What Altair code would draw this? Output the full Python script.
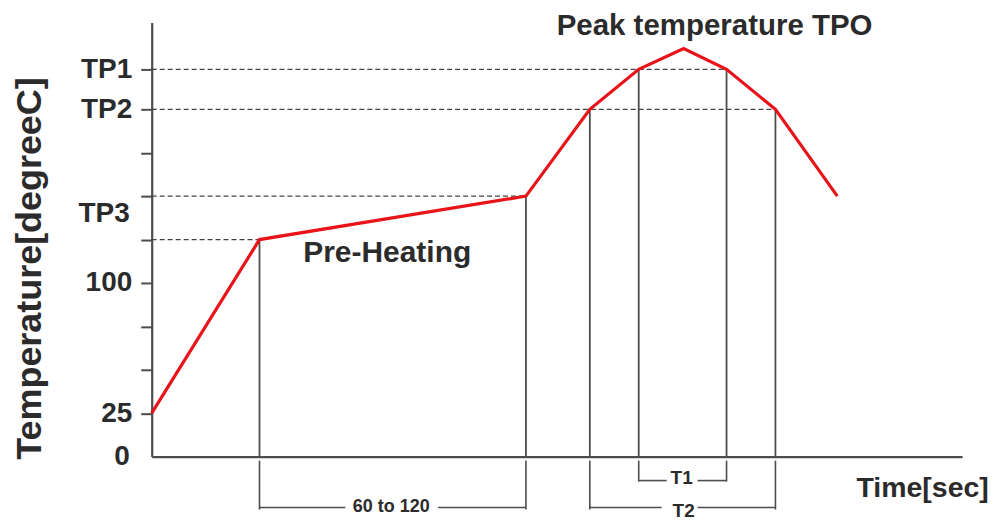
import altair as alt
import pandas as pd

# ---- data (schematic units: time axis 0..812, temperature axis 0..250) ----
time_pts = [0, 108, 375, 439, 488, 533, 576, 625, 687]
temp_pts = [25, 125, 150, 200, 223, 235, 223, 200, 150]

y_tick_values = [25, 50, 75, 100, 125, 150, 175, 200, 223]
y_tick_labels = ["25", "", "", "100", "", "", "", "TP2", "TP1"]

# vertical guide lines from the x-axis up to the profile
guide_time = [108, 375, 439, 488, 576, 625]
guide_temp = [125, 150, 200, 223, 223, 200]

# dashed level lines from the y-axis to the profile
dash_temp = [125, 150, 200, 223]
dash_end = [108, 375, 625, 576]

# dimension lines below the x-axis
dim_v_time = [108, 375, 439, 625, 488, 576]
dim_v_low = [-30.5, -30.5, -30.5, -30.5, -14.4, -14.4]
dim_h_x1 = [108, 287, 439, 547, 488, 547]
dim_h_x2 = [194, 375, 511, 625, 516, 576]
dim_h_y = [-29.3, -29.3, -29.3, -29.3, -13.8, -13.8]

# annotation texts (centred)
ann_text = ["Peak temperature TPO", "Pre-Heating", "60 to 120", "T1", "T2"]
ann_time = [564, 236, 240, 531, 533]
ann_temp = [243, 112, -32, -16, -35]
ann_size = [29.5, 30, 18, 19, 19]

# annotation texts (right-aligned, next to the y-axis)
side_text = ["TP3", "0"]
side_time = [-22, -22]
side_temp = [135, -4.6]

FONT = "Liberation Sans"
TXT = "#2b2b2b"
GRAY = "#4d4d4d"

xs = alt.Scale(domain=[0, 812], nice=False, zero=False)
ys = alt.Scale(domain=[0, 250], nice=False, zero=False)

label_expr = " : ".join(
    f"datum.value == {v} ? '{l}'" for v, l in zip(y_tick_values, y_tick_labels)
) + " : ''"

profile_df = pd.DataFrame({"t": time_pts, "T": temp_pts})
guide_df = pd.DataFrame({"t": guide_time, "T": guide_temp, "z": [0] * len(guide_time)})
dash_df = pd.DataFrame({"T": dash_temp, "t2": dash_end, "t": [0] * len(dash_temp)})
dimv_df = pd.DataFrame({"t": dim_v_time, "lo": dim_v_low, "hi": [-2.3] * len(dim_v_time)})
dimh_df = pd.DataFrame({"x1": dim_h_x1, "x2": dim_h_x2, "y": dim_h_y})
ann_df = pd.DataFrame({"text": ann_text, "t": ann_time, "T": ann_temp, "size": ann_size})
side_df = pd.DataFrame({"text": side_text, "t": side_time, "T": side_temp})

base_x = alt.X("t:Q", scale=xs,
               axis=alt.Axis(labels=False, ticks=False, grid=False, title="Time[sec]",
                             domainColor=GRAY, domainWidth=2.2,
                             titleFont=FONT, titleFontSize=28.5, titleFontWeight="bold",
                             titleColor=TXT, titleX=772, titleY=40,
                             titleAlign="center", titleBaseline="alphabetic"))
base_y = alt.Y("T:Q", scale=ys,
               axis=alt.Axis(values=y_tick_values, labelExpr=label_expr, grid=False,
                             title="Temperature[degreeC]",
                             domainColor=GRAY, domainWidth=2.2,
                             tickColor=GRAY, tickWidth=2, tickSize=11,
                             labelFont=FONT, labelFontSize=28, labelFontWeight="bold",
                             labelColor=TXT, labelPadding=9,
                             titleFont=FONT, titleFontSize=36, titleFontWeight="bold",
                             titleColor=TXT, titleX=-122, titleY=246,
                             titleAngle=-90, titleAlign="center", titleBaseline="middle"))

dashed = alt.Chart(dash_df).mark_rule(color="#444444", strokeWidth=1.3,
                                      strokeDash=[5, 3]).encode(
    x=alt.X("t:Q", scale=xs), x2="t2:Q", y=alt.Y("T:Q", scale=ys))

guides = alt.Chart(guide_df).mark_rule(color=GRAY, strokeWidth=1.8).encode(
    x=alt.X("t:Q", scale=xs), y=alt.Y("z:Q", scale=ys), y2="T:Q")

dimv = alt.Chart(dimv_df).mark_rule(color=GRAY, strokeWidth=1.6, clip=False).encode(
    x=alt.X("t:Q", scale=xs), y=alt.Y("lo:Q", scale=ys), y2="hi:Q")

dimh = alt.Chart(dimh_df).mark_rule(color=GRAY, strokeWidth=1.6, clip=False).encode(
    x=alt.X("x1:Q", scale=xs), x2="x2:Q", y=alt.Y("y:Q", scale=ys))

profile = alt.Chart(profile_df).mark_line(color="#e8141a", strokeWidth=3.2,
                                          strokeJoin="miter").encode(
    x=base_x, y=base_y)

ann = alt.Chart(ann_df).mark_text(font=FONT, fontWeight="bold", color=TXT,
                                  baseline="alphabetic", align="center",
                                  clip=False).encode(
    x=alt.X("t:Q", scale=xs), y=alt.Y("T:Q", scale=ys),
    text="text:N",
    size=alt.Size("size:Q", scale=None, legend=None))

side = alt.Chart(side_df).mark_text(font=FONT, fontWeight="bold", color=TXT,
                                    baseline="alphabetic", align="right",
                                    fontSize=28, clip=False).encode(
    x=alt.X("t:Q", scale=xs), y=alt.Y("T:Q", scale=ys), text="text:N")

chart = alt.layer(dashed, guides, dimv, dimh, profile, ann, side).properties(
    width=812, height=435,
    autosize=alt.AutoSizeParams(type="none"),
    padding={"left": 144, "top": 14, "right": 30, "bottom": 63},
).configure_view(stroke=None)

chart.save("out.html", embed_options={"renderer": "svg", "actions": False})
